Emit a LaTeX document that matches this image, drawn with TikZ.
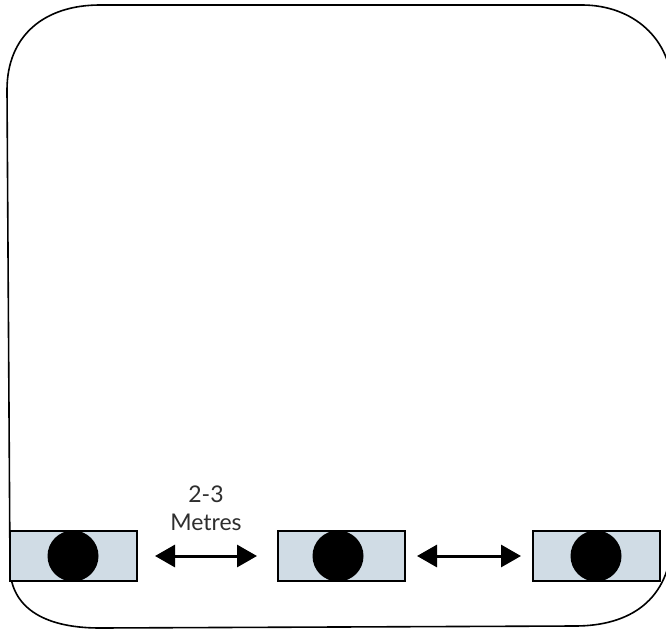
\documentclass[tikz,border=0pt]{standalone}
\usepackage{fontspec}
\setmainfont{Lato}
\usetikzlibrary{arrows.meta}
\definecolor{padfill}{HTML}{D0DCE5}
\definecolor{labelgray}{HTML}{2E2E2E}
\tikzset{
  outline/.style={line width=1.6pt, draw=black},
  pad/.style={draw=black, line width=1.5pt, fill=padfill},
  dot/.style={fill=black},
  gap/.style={line width=3pt, {Triangle[length=20pt,width=22pt]}-{Triangle[length=20pt,width=22pt]}},
  lbl/.style={font=\fontsize{23pt}{28pt}\selectfont, text=labelgray, align=center}
}
\begin{document}
\begin{tikzpicture}[x=1pt, y=-1pt]
\useasboundingbox (0,0) rectangle (666,631);
% enclosing area
\draw[outline] (7,90) .. controls (7,35) and (45,5) .. (100,5) -- (582,5)
  .. controls (632,5) and (672,38) .. (672,90) -- (672,540)
  .. controls (670,600) and (630,626) .. (575,626) -- (100,628)
  .. controls (40,628) and (12,605) .. (10,570) -- cycle;
% three units
\foreach \n/\x/\cx in {a/10/73, b/278/338, c/533/596}{
  \draw[pad] (\x,531) rectangle ++(127,50);
  \fill[dot] (\cx,556) circle (25.5pt);
  \coordinate (\n) at (\x,556);
}
\coordinate (a1) at (155,556);
\coordinate (a2) at (257,556);
\coordinate (b1) at (417,556);
\coordinate (b2) at (521,556);
\draw[gap] (a1) -- (a2);
\draw[gap] (b1) -- (b2);
\node[lbl] (dist) at (206,508) {2-3\\Metres};
\end{tikzpicture}
\end{document}
